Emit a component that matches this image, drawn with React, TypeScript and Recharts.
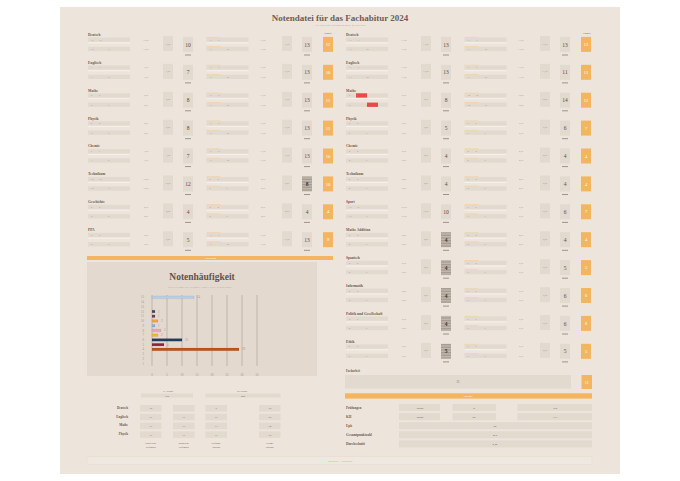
import { BarChart, Bar, XAxis, YAxis, CartesianGrid, Cell, LabelList } from "recharts";

// Notenhäufigkeit: Punkte 15 (oben) bis 1 (unten)
const grades = ["15", "14", "13", "12", "11", "10", "9", "8", "7", "6", "5", "4", "3", "2", "1"];
const counts = [14, 0, 0, 1, 1, 2, 1, 3, 2, 10, 4, 29, 0, 0, 0];
const xTicks = [0, 5, 10, 15, 20, 25, 30, 35];

const leftSubjects = ["Deutsch", "Englisch", "Mathe", "Physik", "Chemie", "Technikum", "Geschichte", "PPA"];
const leftHalf1 = [10, 7, 8, 8, 7, 12, 4, 5];
const leftHalf2 = [13, 13, 13, 13, 13, 8, 4, 13];
const leftFinal = [12, 10, 11, 11, 10, 10, 4, 9];

const rightSubjects = [
  "Deutsch", "Englisch", "Mathe", "Physik", "Chemie", "Technikum", "Sport",
  "Mathe Addition", "Spanisch", "Informatik", "Politik und Gesellschaft", "Ethik",
];
const rightHalf1 = [13, 13, 8, 5, 4, 4, 10, 4, 4, 4, 4, 5];
const rightHalf2 = [13, 11, 14, 6, 4, 4, 6, 4, 5, 6, 6, 5];
const rightFinal = [13, 11, 12, 7, 4, 4, 7, 4, 5, 6, 6, 5];

const summarySubjects = ["Deutsch", "Englisch", "Mathe", "Physik"];
const summaryWritten = ["16", "17", "17", "17"];
const summaryOral = ["", "11", "13", "11"];
const summaryExam = ["9", "17", "13", "11"];
const summaryTotal = ["12", "15", "14", "12"];
const summaryColumns = [["Schriftliche", "Prüfungen"], ["Mündliche", "Prüfungen"], ["Prüfungs-", "ergebnis"], ["Gesamt-", "ergebnis"]];
const classTotals = ["158", "280"];

const resultLabels = ["Prüfungen", "KH", "Epk", "Gesamtpunktzahl", "Durchschnitt"];
const resultCounts = ["4", "25"];
const resultPoints = ["162", "313"];
const resultSingles = ["20", "475", "2,25"];
const facharbeit = 11;

const barColors = [
  "#b9cfe6", "#b9cfe6", "#b9cfe6", "#3a4b60", "#7a3a5a", "#f0a63a", "#8ab4dc", "#e8a3c3",
  "#f4b43c", "#1f3d60", "#8a2444", "#b8561b", "#cfc4b8", "#cfc4b8", "#cfc4b8",
];

const chartData = grades.map((g, i) => ({ grade: g, count: counts[i] }));

const FONT = "Liberation Serif, DejaVu Serif, serif";
const CELL = "#e2d9cf";
const ORANGE = "#f3b55f";
const INK = "#6a5a4f";
const FAINT = "#a2968b";

function Block({ x0, L, name, h1, h2, fin, hatch, red }: {
  x0: number; L: number; name: string; h1: number; h2: number; fin: number; hatch: boolean[]; red?: boolean;
}) {
  const groups = [
    { cx: 88, vx: 146, sx: 163, bx: 183, val: h1 },
    { cx: 206.5, vx: 263, sx: 282, bx: 302, val: h2 },
  ];
  return (
    <g>
      <text x={x0 + 88} y={L + 1.3} fontSize={3.6} fontWeight="bold" fill={INK} fontFamily={FONT}>{name}</text>
      {groups.map((g, gi) => (
        <g key={gi}>
          {[0, 1].map((r) => {
            const ry = L + 3 + r * 9.3;
            return (
              <g key={r}>
                <rect x={x0 + g.cx} y={ry} width={42} height={4.3} fill={CELL} />
                {gi === 1 && <rect x={x0 + g.cx} y={ry - 0.6} width={14} height={0.6} fill="#f1cf9c" />}
                {r === 0 && <rect x={x0 + g.cx} y={ry + 5} width={42} height={0.8} fill="#f7f3ee" />}
                {red && gi === 0 && <rect x={x0 + g.cx + 10 + r * 11} y={ry} width={11} height={4.3} fill="#e84a4a" />}
                <text x={x0 + g.cx + 3} y={ry + 3} fontSize={2.4} fill={FAINT} fontFamily={FONT}>{g.val}</text>
                <text x={x0 + g.cx + 11 + r * 9} y={ry + 3} fontSize={2.4} fill={FAINT} fontFamily={FONT}>{g.val + r}</text>
                <text x={x0 + g.vx} y={ry + 3} fontSize={2.4} fill={FAINT} fontFamily={FONT} textAnchor="middle">{`${g.val},00`}</text>
              </g>
            );
          })}
          <rect x={x0 + g.sx} y={L + 1.5} width={10} height={15} fill={CELL} />
          <text x={x0 + g.sx + 5} y={L + 10} fontSize={2.4} fill={FAINT} fontFamily={FONT} textAnchor="middle">{`${g.val},50`}</text>
          <rect x={x0 + g.bx} y={L + 2.4} width={10} height={15} fill={hatch[gi] ? "url(#hatch)" : CELL} />
          <text x={x0 + g.bx + 5} y={L + 12} fontSize={5.5} fill={hatch[gi] ? "#3f3630" : "#5a4c42"} fontWeight={hatch[gi] ? "bold" : "normal"} fontFamily={FONT} textAnchor="middle">{g.val}</text>
          <line x1={x0 + g.bx + 2} x2={x0 + g.bx + 8} y1={L + 20.5} y2={L + 20.5} stroke={INK} strokeWidth={0.6} />
        </g>
      ))}
      <rect x={x0 + 323} y={L + 2.4} width={10} height={15} fill={ORANGE} />
      <text x={x0 + 328} y={L + 11.5} fontSize={4.5} fill="#fff" fontFamily={FONT} textAnchor="middle">{fin}</text>
    </g>
  );
}

function Sheet() {
  const step = 27.9;
  return (
    <svg width={680} height={481} style={{ position: "absolute", left: 0, top: 0 }}>
      <defs>
        <pattern id="hatch" width={4} height={1.6} patternUnits="userSpaceOnUse">
          <rect width={4} height={1.6} fill="#c4bbb1" />
          <rect width={4} height={0.5} fill="#8f857b" />
        </pattern>
      </defs>
      <rect x={0} y={0} width={680} height={481} fill="#ffffff" />
      <rect x={60} y={7} width={560} height={467} fill="#ede5dc" />
      <text x={340} y={21} fontSize={9} fontWeight="bold" fill="#6e5d52" fontFamily={FONT} textAnchor="middle">
        Notendatei für das Fachabitur 2024
      </text>
      <text x={340} y={26} fontSize={2.6} fill="#d9a35a" fontFamily={FONT} textAnchor="middle">
        Alle Noten und Prüfungsergebnisse im Überblick
      </text>
      <text x={328} y={34} fontSize={2.4} fill={INK} fontFamily={FONT} textAnchor="middle">Endnote</text>
      <text x={587} y={34} fontSize={2.4} fill={INK} fontFamily={FONT} textAnchor="middle">Endnote</text>

      {leftSubjects.map((s, i) => (
        <Block key={s} x0={0} L={34.5 + step * i} name={s} h1={leftHalf1[i]} h2={leftHalf2[i]} fin={leftFinal[i]}
          hatch={[false, i === 5]} />
      ))}
      {rightSubjects.map((s, i) => (
        <Block key={s} x0={258} L={34.5 + step * i} name={s} h1={rightHalf1[i]} h2={rightHalf2[i]} fin={rightFinal[i]}
          hatch={[i >= 7, false]} red={i === 2} />
      ))}

      {/* Auswertung-Balken links */}
      <rect x={87} y={256} width={246} height={4} fill={ORANGE} />
      <text x={210} y={259} fontSize={2.4} fill="#fff" fontFamily={FONT} textAnchor="middle">Auswertung</text>
      <rect x={87} y={262} width={230} height={114} fill="#e3d9ce" />
      <text x={202} y={280} fontSize={9.5} fontWeight="bold" fill="#5f534b" fontFamily={FONT} textAnchor="middle">Notenhäufigkeit</text>
      <text x={200} y={288} fontSize={2.4} fill={FAINT} fontFamily={FONT} textAnchor="middle" letterSpacing={0.6}>
        Verteilung der Punkte über alle Halbjahre
      </text>

      {/* Übersicht Klassen */}
      <text x={168} y={392} fontSize={2.6} fill={INK} fontFamily={FONT} textAnchor="middle">11. Klasse</text>
      <text x={242} y={392} fontSize={2.6} fill={INK} fontFamily={FONT} textAnchor="middle">12. Klasse</text>
      <rect x={141} y={393.5} width={52} height={4} fill={CELL} />
      <rect x={205.5} y={393.5} width={75} height={4} fill={CELL} />
      <text x={167} y={396.6} fontSize={2.6} fill={INK} fontFamily={FONT} textAnchor="middle">{classTotals[0]}</text>
      <text x={243} y={396.6} fontSize={2.6} fill={INK} fontFamily={FONT} textAnchor="middle">{classTotals[1]}</text>
      {summarySubjects.map((s, i) => {
        const y = 405 + i * 8.8;
        const cols = [summaryWritten[i], summaryOral[i], summaryExam[i], summaryTotal[i]];
        const xs = [140, 173, 205.5, 259];
        return (
          <g key={s}>
            <text x={128} y={y + 3.7} fontSize={3.2} fontWeight="bold" fill={INK} fontFamily={FONT} textAnchor="end">{s}</text>
            {cols.map((c, j) => (
              <g key={j}>
                <rect x={xs[j]} y={y} width={21.5} height={6.5} fill={CELL} />
                <text x={xs[j] + 10.75} y={y + 4.2} fontSize={2.8} fill={INK} fontFamily={FONT} textAnchor="middle">{c}</text>
              </g>
            ))}
          </g>
        );
      })}
      {summaryColumns.map((c, j) => {
        const xs = [150.75, 183.75, 216.25, 269.75];
        return (
          <g key={j}>
            <text x={xs[j]} y={444} fontSize={2.4} fill={INK} fontFamily={FONT} textAnchor="middle">{c[0]}</text>
            <text x={xs[j]} y={447.5} fontSize={2.4} fill={INK} fontFamily={FONT} textAnchor="middle">{c[1]}</text>
          </g>
        );
      })}

      {/* Facharbeit */}
      <text x={346} y={371.5} fontSize={3} fontWeight="bold" fill={INK} fontFamily={FONT}>Facharbeit</text>
      <rect x={345} y={375} width={226} height={13.5} fill={CELL} />
      <text x={458} y={383} fontSize={3} fill={INK} fontFamily={FONT} textAnchor="middle">{facharbeit}</text>
      <rect x={581.5} y={375} width={10.5} height={14} fill={ORANGE} />
      <text x={586.75} y={383.5} fontSize={4} fill="#fff" fontFamily={FONT} textAnchor="middle">{facharbeit}</text>

      {/* Ergebnis */}
      <rect x={345} y={393.3} width={247} height={5.3} fill={ORANGE} />
      <text x={468} y={397} fontSize={2.6} fill="#fff" fontFamily={FONT} textAnchor="middle">Ergebnis</text>
      {resultLabels.map((lab, i) => {
        const y = 404 + i * 9.1;
        return (
          <g key={lab}>
            <text x={346} y={y + 4.6} fontSize={3.4} fontWeight="bold" fill={INK} fontFamily={FONT}>{lab}</text>
            {i < 2 ? (
              <g>
                <rect x={399} y={y} width={41} height={7} fill={CELL} />
                <text x={419.5} y={y + 4.6} fontSize={2.8} fill={INK} fontFamily={FONT} textAnchor="middle">Anzahl</text>
                <rect x={452.5} y={y} width={43.5} height={7} fill={CELL} />
                <text x={474} y={y + 4.6} fontSize={2.8} fill={INK} fontFamily={FONT} textAnchor="middle">{resultCounts[i]}</text>
                <rect x={517.5} y={y} width={74.5} height={7} fill={CELL} />
                <text x={555} y={y + 4.6} fontSize={2.8} fill={INK} fontFamily={FONT} textAnchor="middle">{resultPoints[i]}</text>
              </g>
            ) : (
              <g>
                <rect x={399} y={y} width={193} height={7} fill={CELL} />
                <text x={495} y={y + 4.6} fontSize={2.8} fill={INK} fontFamily={FONT} textAnchor="middle">{resultSingles[i - 2]}</text>
              </g>
            )}
          </g>
        );
      })}

      {/* Fußzeile */}
      <rect x={87} y={456.5} width={505} height={8} fill="#efe8e0" stroke="#e6dccf" strokeWidth={0.6} />
      <text x={340} y={461.8} fontSize={2.6} fill="#e3a24e" fontFamily={FONT} textAnchor="middle">Notendatei · Fachabitur</text>
    </svg>
  );
}

export default function App() {
  return (
    <div style={{ position: "absolute", left: 0, top: 0, width: 680, height: 481, overflow: "hidden" }}>
      <Sheet />
      <div style={{ position: "absolute", left: 87, top: 288 }}>
        <BarChart width={230} height={88} data={chartData} layout="vertical" margin={{ top: 7, right: 60, left: 0, bottom: 0 }} barCategoryGap={1}>
          <CartesianGrid horizontal={false} vertical stroke="#b3a89c" strokeWidth={0.7} />
          <XAxis type="number" domain={[0, 35]} ticks={xTicks} height={10} tick={{ fontSize: 3, fill: FAINT, fontFamily: FONT }}
            tickLine={false} axisLine={false} interval={0} />
          <YAxis type="category" dataKey="grade" width={65} tick={{ fontSize: 3, fill: FAINT, fontFamily: FONT }}
            tickLine={false} axisLine={false} interval={0} />
          <Bar dataKey="count" barSize={2.6} isAnimationActive={false} stroke="#00000033" strokeWidth={0.3}>
            {chartData.map((d, i) => (
              <Cell key={d.grade} fill={barColors[i]} />
            ))}
            <LabelList dataKey="count" position="right" fontSize={3} fill={FAINT} fontFamily={FONT} offset={3} />
          </Bar>
        </BarChart>
      </div>
    </div>
  );
}
